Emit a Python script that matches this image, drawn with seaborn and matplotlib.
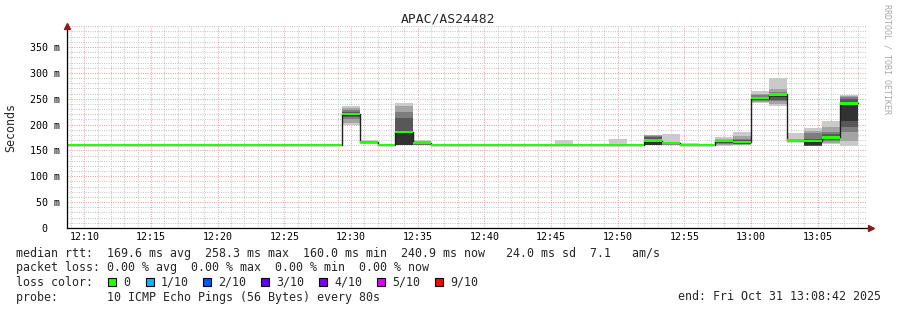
import matplotlib
matplotlib.use("Agg")
import matplotlib.pyplot as plt
import matplotlib.dates as mdates
from matplotlib.patches import Rectangle
from matplotlib.ticker import MultipleLocator, FuncFormatter
import numpy as np
import pandas as pd
import seaborn as sns

# ---------------- data ----------------
title = "APAC/AS24482"
day = "2025-10-31"
first_bin = "12:08:00"          # start of first 80 s RRD step in view
step_seconds = 80
view_start = "12:08:42"
view_end = "13:08:42"

# median RTT per 80 s step (ms)
median_ms = [160, 160, 160, 160, 160, 160, 160, 160,
             160, 160, 160, 160, 160, 160, 160, 160,
             220, 166, 160, 186, 164, 160.5,
             160, 160, 160, 160, 160,
             160, 160, 160, 160, 160, 160,
             169, 164, 160, 160, 168, 166, 251, 258.3, 169, 168, 175, 240.9]

# steps that show smoke: start time and the 10 sorted ping RTTs (ms)
smoke_start = ["12:29:20", "12:30:40", "12:33:20", "12:34:40", "12:36:00",
               "12:44:00", "12:45:20", "12:49:20", "12:50:40", "12:52:00",
               "12:53:20", "12:54:40", "12:57:20", "12:58:40", "13:00:00",
               "13:01:20", "13:02:40", "13:04:00", "13:05:20", "13:06:40"]
smoke_pings = [
    [200, 204, 210, 214, 217, 220, 224, 229, 233, 236.5],
    [163, 164, 165, 165.5, 165.8, 166, 166.5, 167, 168, 170],
    [160, 160.2, 160.3, 160.5, 161, 186, 213, 224, 236, 242],
    [160, 160.5, 161, 162, 163, 164, 166, 167, 168, 170],
    [160, 160, 160, 160.2, 160.4, 160.5, 160.8, 161, 161.5, 162],
    [160, 160, 160, 160, 160, 160, 160, 160, 160.5, 163],
    [160, 160, 160, 160, 160, 160, 160, 160, 161, 170],
    [160, 160, 160, 160, 160, 160, 160, 160, 161, 172],
    [160, 160, 160, 160, 160, 160, 160, 160, 160.5, 162],
    [160, 160, 160, 160, 160.3, 169, 176, 178, 179, 180],
    [160, 161, 162, 163, 163.5, 164, 165, 165.5, 166, 182],
    [160, 160, 160, 160, 160, 160, 161, 162, 163, 164],
    [159, 161, 163, 165, 167, 168, 170, 171, 173, 176],
    [160, 161, 162, 163, 164, 166, 170, 173, 177, 186],
    [242, 244, 246, 248, 250, 251, 254, 257, 260, 265],
    [235, 240, 246, 247, 254, 258.3, 260, 263, 268, 291],
    [166, 167, 167.5, 168, 168.5, 169, 170, 171, 173, 184],
    [159, 159.2, 159.4, 159.5, 159.7, 168, 172, 183, 188, 194],
    [162, 165, 168, 171, 173, 175, 181, 186, 195, 206],
    [159, 168, 185, 195, 207, 240.9, 250, 253, 255, 257],
]

loss_labels = ["0", "1/10", "2/10", "3/10", "4/10", "5/10", "9/10"]
loss_colors = ["#26ff00", "#00b8ff", "#0059ff", "#5e00ff", "#7e00ff", "#dd00ff", "#ff0000"]

legend_lines = [
    "median rtt:  169.6 ms avg  258.3 ms max  160.0 ms min  240.9 ms now   24.0 ms sd  7.1   am/s",
    "packet loss: 0.00 % avg  0.00 % max  0.00 % min  0.00 % now",
    "loss color:",
    "probe:       10 ICMP Echo Pings (56 Bytes) every 80s",
]
end_text = "end: Fri Oct 31 13:08:42 2025"
ylabel = "Seconds"
credit = "RRDTOOL / TOBI OETIKER"

# ---------------- style ----------------
sns.set_theme(style="white")
plt.rcParams["font.family"] = ["DejaVu Sans Mono", "DejaVu Sans"]

W, H = 897, 310
fig = plt.figure(figsize=(W / 100, H / 100), dpi=100)
fig.patch.set_facecolor("white")
ax = fig.add_axes([67 / W, (H - 228) / H, 800 / W, (228 - 26) / H])
ax.set_facecolor("white")

step = pd.Timedelta(seconds=step_seconds)
edges = pd.date_range(pd.Timestamp(f"{day} {first_bin}"), periods=len(median_ms) + 1,
                      freq=f"{step_seconds}s")
med_ext = np.array(median_ms + [median_ms[-1]], dtype=float)

# smoke (outer light -> inner dark), SmokePing shading
for st, pings in zip(smoke_start, smoke_pings):
    t0 = pd.Timestamp(f"{day} {st}")
    t1 = t0 + step
    p = sorted(pings)
    n = len(p)
    half = n / 2
    for ibot in range(1, n // 2 + 1):
        itop = n - ibot + 1
        g = int(190 / half * (half - ibot)) + 50
        col = "#%02x%02x%02x" % (g, g, g)
        ax.fill_between([t0, t1], [p[ibot - 1]] * 2, [p[itop - 1]] * 2,
                        color=col, lw=0, zorder=2)

# median black line
sns.lineplot(x=edges, y=med_ext, drawstyle="steps-post", color="#202020",
             lw=1, ax=ax, estimator=None, sort=False, zorder=3)
# loss-coloured median band (0 loss)
ax.fill_between(edges, med_ext - 2.4, med_ext + 2.4, step="post",
                color=loss_colors[0], lw=0, zorder=4)

ax.set_xlim(pd.Timestamp(f"{day} {view_start}"), pd.Timestamp(f"{day} {view_end}"))
ax.set_ylim(0, 390.6)

ax.xaxis.set_major_locator(mdates.MinuteLocator(byminute=range(0, 60, 5)))
ax.xaxis.set_minor_locator(mdates.MinuteLocator())
ax.xaxis.set_major_formatter(mdates.DateFormatter("%H:%M"))
ax.yaxis.set_major_locator(MultipleLocator(50))
ax.yaxis.set_minor_locator(MultipleLocator(10))
ax.yaxis.set_major_formatter(FuncFormatter(lambda v, p: "0  " if v == 0 else f"{v:.0f} m"))

ax.set_axisbelow(True)
ax.grid(which="minor", color="#bdbdbd", ls=(0, (0.8, 1.4)), lw=0.75)
ax.grid(which="major", color="#ee8f8f", ls=(0, (0.8, 1.4)), lw=0.75)

ax.tick_params(which="both", length=0, labelsize=7.2, colors="black")
ax.tick_params(axis="y", pad=5)
ax.tick_params(axis="x", pad=3)
ax.set_xlabel("")
ax.set_ylabel("")

for s in ["top", "right"]:
    ax.spines[s].set_visible(False)
for s in ["left", "bottom"]:
    ax.spines[s].set_color("black")
    ax.spines[s].set_linewidth(0.9)
    ax.spines[s].set_zorder(6)

# axis arrows
ax.plot([0], [1.0], marker="^", ms=4, color="#8b1a1a", transform=ax.transAxes,
        clip_on=False, zorder=7)
ax.plot([1.005], [0], marker=">", ms=4, color="#8b1a1a", transform=ax.transAxes,
        clip_on=False, zorder=7)

# titles and labels
fig.text(448 / W, 1 - 19 / H, title, ha="center", va="center", fontsize=9.4)
fig.text(11 / W, 1 - 127 / H, ylabel, ha="center", va="center", rotation=90, fontsize=8.4)
fig.text(887 / W, 1 - 4 / H, credit, ha="center", va="top", rotation=270,
         fontsize=6, color="#a8a8a8")

# legend block
ys = [254, 268, 282, 297]
for line, y in zip(legend_lines, ys):
    fig.text(16 / W, 1 - y / H, line, ha="left", va="center", fontsize=8.4)
fig.text(881 / W, 1 - 297 / H, end_text, ha="right", va="center", fontsize=8.4)

sq_x = [108, 146, 203, 261, 319, 377, 435]
for x0, lab, col in zip(sq_x, loss_labels, loss_colors):
    fig.patches.append(Rectangle((x0 / W, 1 - 286 / H), 8 / W, 8 / H,
                                 transform=fig.transFigure, facecolor=col,
                                 edgecolor="black", lw=0.8))
    fig.text((x0 + 15) / W, 1 - 282 / H, lab, ha="left", va="center", fontsize=8.4)

fig.savefig("out.png", dpi=100)
